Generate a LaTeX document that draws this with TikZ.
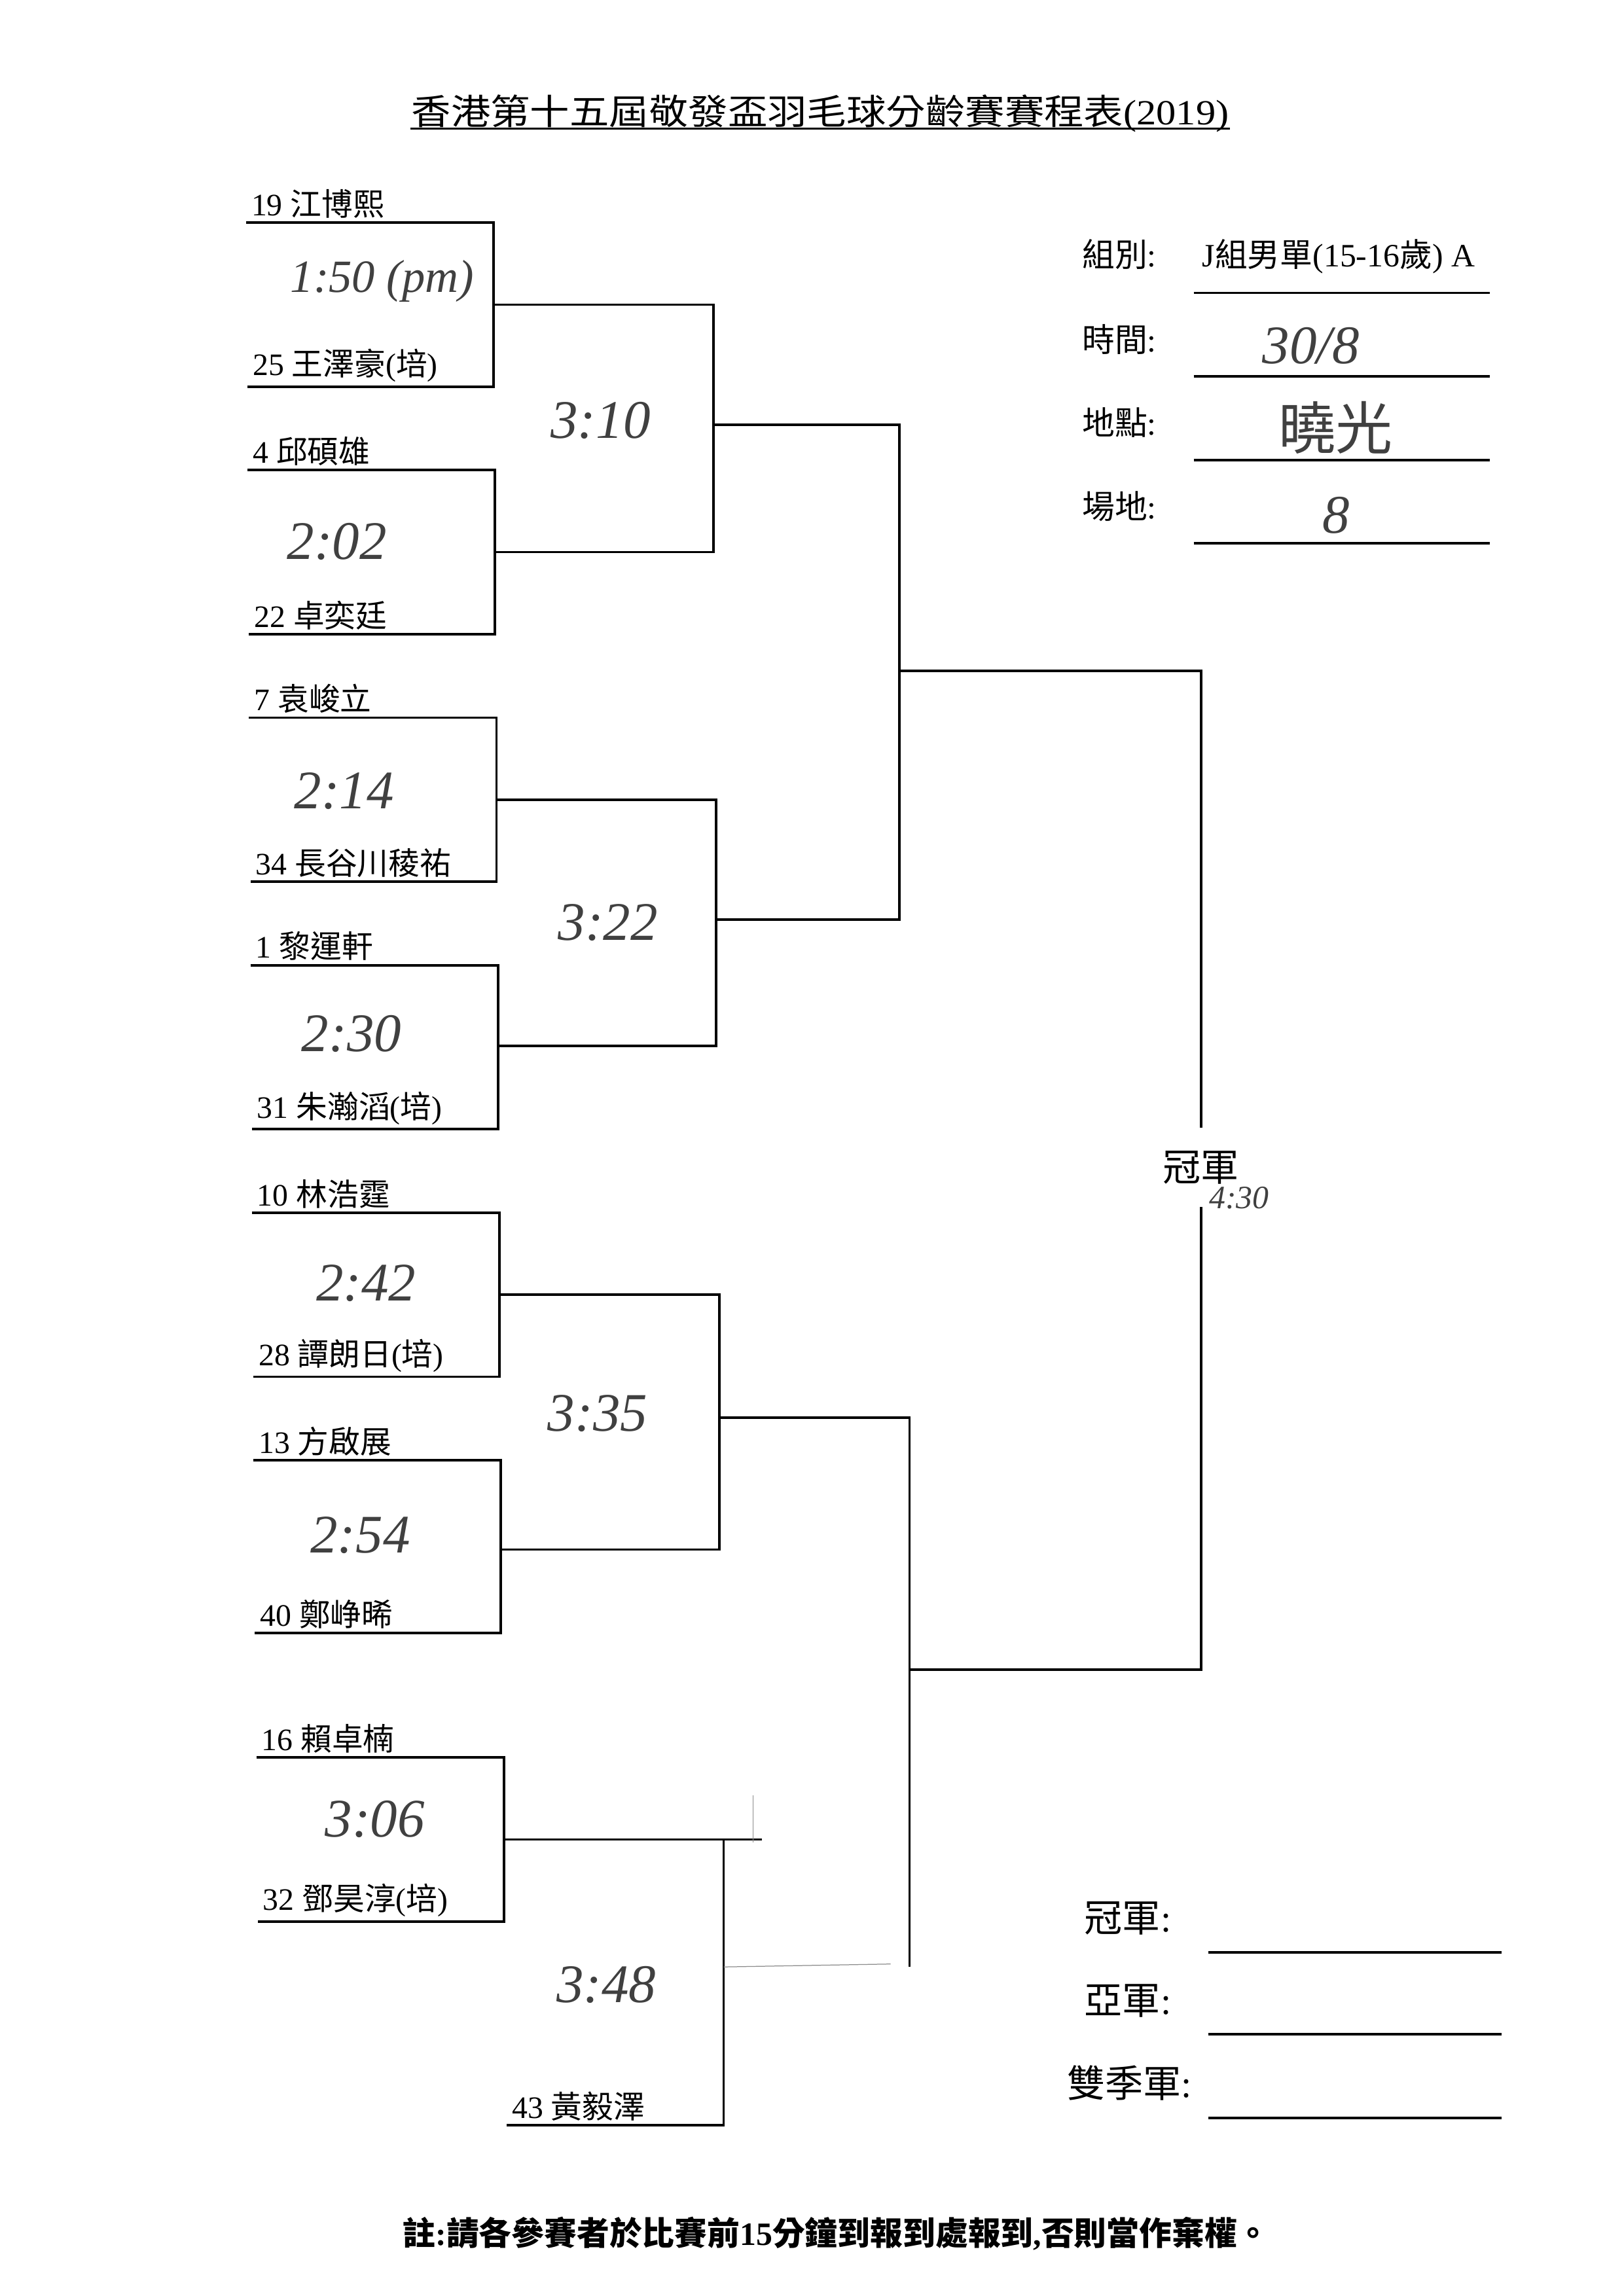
\documentclass[tikz,border=0pt]{standalone}
\usepackage{graphicx}
\usepackage{fontspec}
\setmainfont{Liberation Serif}
\newfontfamily\cjk{Noto Sans CJK TC}
\newcommand{\zh}[1]{{\cjk #1}}
\begin{document}
\begin{tikzpicture}[x=0.18948mm, y=-0.18948mm, line width=0.9pt,
    player/.style={anchor=south west, inner xsep=1.5pt, inner ysep=1.2pt,
      font=\fontsize{11.5}{13}\selectfont},
    hand/.style={inner sep=0pt, black!75,
      font=\fontsize{20}{22}\selectfont\itshape},
    info/.style={anchor=base west, inner sep=0pt,
      font=\fontsize{12}{14}\selectfont},
    prize/.style={inner sep=0pt, font=\fontsize{14}{16}\selectfont},
    faint/.style={line width=0.3pt, black!45}]
  \useasboundingbox[fill=white] (0,0) rectangle (1108.3,1567.7);

  % title
  \node[anchor=base, inner sep=0pt, font=\fontsize{13}{15}\selectfont]
    (title) at (560,85)
    {\scalebox{1.12}[1]{\zh{香港第十五屆敬發盃羽毛球分齡賽賽程表}(2019)}};
  \draw[line width=0.7pt] ([yshift=-1.5pt]title.base west)
    -- ([yshift=-1.5pt]title.base east);

  % players
  \node[player] (p1) at (168,152) {19 \zh{江博熙}};
  \node[player] (p2) at (169,264) {25 \zh{王澤豪}(\zh{培})};
  \node[player] (p3) at (169,321) {4 \zh{邱碩雄}};
  \node[player] (p4) at (170,433) {22 \zh{卓奕廷}};
  \node[player] (p5) at (170,490) {7 \zh{袁峻立}};
  \node[player] (p6) at (171,602) {34 \zh{長谷川稜祐}};
  \node[player] (p7) at (171,659) {1 \zh{黎運軒}};
  \node[player] (p8) at (172,771) {31 \zh{朱瀚滔}(\zh{培})};
  \node[player] (p9) at (172,828) {10 \zh{林浩霆}};
  \node[player] (p10) at (173,940) {28 \zh{譚朗日}(\zh{培})};
  \node[player] (p11) at (173,997) {13 \zh{方啟展}};
  \node[player] (p12) at (174,1115) {40 \zh{鄭峥晞}};
  \node[player] (p13) at (175,1200) {16 \zh{賴卓楠}};
  \node[player] (p14) at (176,1312) {32 \zh{鄧昊淳}(\zh{培})};
  \node[player] (p15) at (346,1451) {43 \zh{黃毅澤}};

  % match points
  \coordinate (m1) at (337,208);
  \coordinate (m2) at (338,377);
  \coordinate (m3) at (339,546);
  \coordinate (m4) at (340,714);
  \coordinate (m5) at (341,884);
  \coordinate (m6) at (342,1058);
  \coordinate (m7) at (344,1256);
  \coordinate (x7) at (520,1256);
  \coordinate (r1) at (487,290);
  \coordinate (r2) at (489,628);
  \coordinate (r3) at (491,968);
  \coordinate (r4) at (494,1343);
  \coordinate (s1) at (614,458);
  \coordinate (s2) at (621,1140);

  % first round
  \draw (p1.south west) -| (m1) |- (p2.south west);
  \draw (p3.south west) -| (m2) |- (p4.south west);
  \draw (p5.south west) -| (m3) |- (p6.south west);
  \draw (p7.south west) -| (m4) |- (p8.south west);
  \draw (p9.south west) -| (m5) |- (p10.south west);
  \draw (p11.south west) -| (m6) |- (p12.south west);
  \draw (p13.south west) -| (m7) |- (p14.south west);

  % second round
  \draw (m1) -| (r1) |- (m2);
  \draw (m3) -| (r2) |- (m4);
  \draw (m5) -| (r3) |- (m6);
  \draw (m7) -- (x7);
  \draw (p15.south west) -| (r4) |- (m7);
  \draw[faint] (514,1226) -- (514,1258);

  % third round
  \draw (r1) -| (s1) |- (r2);
  \draw (r3) -| (s2) -- (s2 |- r4);
  \draw[faint] (r4) -- (608,1341);

  % final
  \node[prize, inner ysep=8pt] (champ) at (820,797) {\zh{冠軍}};
  \draw (s1) -| (champ.north);
  \draw (s2) -| (champ.south);

  % handwritten times
  \node[hand, font=\fontsize{17}{19}\selectfont\itshape] (t1) at (261,192) {1:50 (pm)};
  \node[hand] (t2) at (230,370) {2:02};
  \node[hand] (t3) at (235,540) {2:14};
  \node[hand] (t4) at (240,706) {2:30};
  \node[hand] (t5) at (250,876) {2:42};
  \node[hand] (t6) at (246,1048) {2:54};
  \node[hand] (t7) at (256,1242) {3:06};
  \node[hand] (t8) at (410,287) {3:10};
  \node[hand] (t9) at (415,630) {3:22};
  \node[hand] (t10) at (408,965) {3:35};
  \node[hand] (t11) at (414,1355) {3:48};
  \node[hand, font=\fontsize{12}{14}\selectfont\itshape] (t12) at (846,818) {4:30};

  % info
  \node[info] (grp) at (738,182) {\zh{組別}:};
  \node[info] (grpv) at (820,182) {J\zh{組男單}(15-16\zh{歲}) A};
  \node[info] (date) at (738,240) {\zh{時間}:};
  \node[info] (venue) at (738,297) {\zh{地點}:};
  \node[info] (court) at (738,354) {\zh{場地}:};
  \node[hand] (datev) at (895,236) {30/8};
  \node[hand, font=\fontsize{21}{23}\selectfont] (venuev) at (912,292) {\zh{曉光}};
  \node[hand] (courtv) at (912,352) {8};
  \foreach \y in {200,257,314,371}
    \draw (815,\y) -- (1017,\y);

  % results
  \node[prize] (first) at (770,1310) {\zh{冠軍}:};
  \node[prize] (second) at (770,1366) {\zh{亞軍}:};
  \node[prize] (third) at (771,1422) {\zh{雙季軍}:};
  \foreach \y in {1333,1389,1446}
    \draw (825,\y) -- (1025,\y);

  % note
  \node[inner sep=0pt, font=\fontsize{12}{14}\selectfont\bfseries] (note)
    at (571,1525) {\zh{註}:\zh{請各參賽者於比賽前}15\zh{分鐘到報到處報到},\zh{否則當作棄權。}};
\end{tikzpicture}
\end{document}
